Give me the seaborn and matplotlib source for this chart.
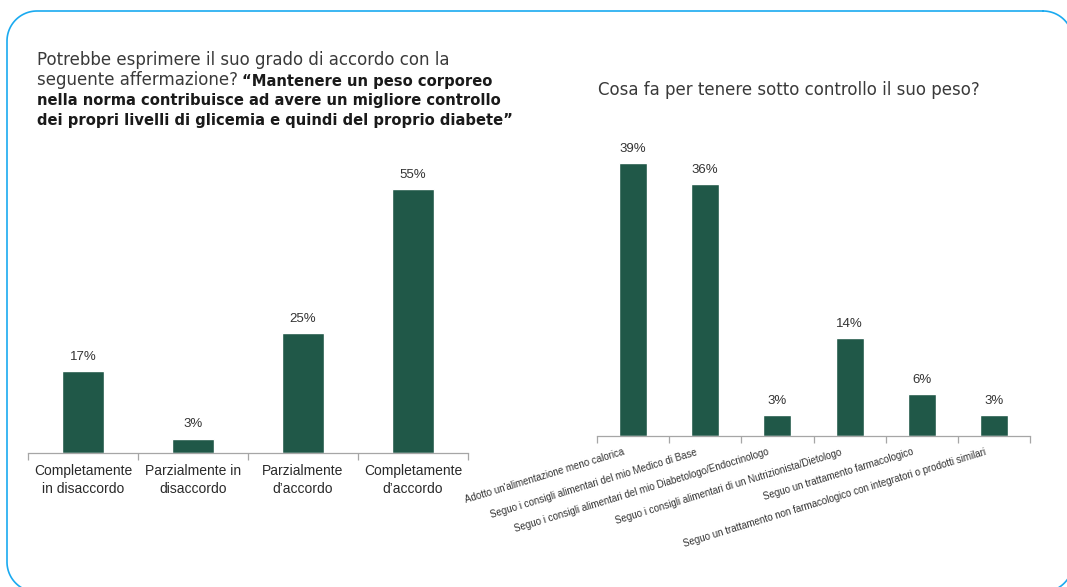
import matplotlib
matplotlib.use("Agg")
import matplotlib.pyplot as plt
from matplotlib.transforms import ScaledTranslation
import numpy as np
import seaborn as sns

left_categories = ["Completamente\nin disaccordo", "Parzialmente in\ndisaccordo",
                   "Parzialmente\nd’accordo", "Completamente\nd’accordo"]
left_values = [17, 3, 25, 55]

right_categories = ["Adotto un'alimentazione meno calorica",
                    "Seguo i consigli alimentari del mio Medico di Base",
                    "Seguo i consigli alimentari del mio Diabetologo/Endocrinologo",
                    "Seguo i consigli alimentari di un Nutrizionista/Dietologo",
                    "Seguo un trattamento farmacologico",
                    "Seguo un trattamento non farmacologico con integratori o prodotti similari"]
right_values = [39, 36, 3, 14, 6, 3]

left_title = ["Potrebbe esprimere il suo grado di accordo con la",
              "seguente affermazione?"]
left_title_bold = ["“Mantenere un peso corporeo",
                   "nella norma contribuisce ad avere un migliore controllo",
                   "dei propri livelli di glicemia e quindi del proprio diabete”"]
right_title = "Cosa fa per tenere sotto controllo il suo peso?"

bar_color = "#205848"
axis_gray = "#a6a6a6"

sns.set_theme(style="white")
plt.rcParams["font.family"] = ["Liberation Sans", "DejaVu Sans"]

W, H = 1067, 587
fig = plt.figure(figsize=(W / 100, H / 100), dpi=100)

# background axes in pixel units, y measured from the top
bg = fig.add_axes([0, 0, 1, 1])
bg.set_xlim(0, W)
bg.set_ylim(H, 0)
bg.axis("off")

# rounded frame around the slide
x0, x1, y0, y1, r = 7, 1073, 11, 592, 30
corners = [(x1 - r, y0 + r, -90, 0), (x1 - r, y1 - r, 0, 90),
           (x0 + r, y1 - r, 90, 180), (x0 + r, y0 + r, 180, 270)]
fx, fy = [], []
for cx, cy, a0, a1 in corners:
    t = np.radians(np.linspace(a0, a1, 30))
    fx.extend(cx + r * np.cos(t))
    fy.extend(cy + r * np.sin(t))
fx.append(fx[0])
fy.append(fy[0])
bg.plot(fx, fy, color="#1aaaf0", linewidth=1.2, clip_on=False)

title_font = ["DejaVu Sans"]
normal_size = 12
bold_size = 10.6
bg.text(37, 60, left_title[0], fontsize=normal_size, color="#3a3a3a", va="center",
        family=title_font)
t2 = bg.text(37, 80, left_title[1], fontsize=normal_size, color="#3a3a3a", va="center",
             family=title_font)
bg.annotate(left_title_bold[0], xy=(1, 0), xycoords=t2, xytext=(3, 0), textcoords="offset points",
            fontsize=bold_size, fontweight="bold", color="#1a1a1a", va="bottom", family=title_font)
bg.text(37, 101, left_title_bold[1], fontsize=bold_size, fontweight="bold", color="#1a1a1a",
        va="center", family=title_font)
bg.text(37, 121, left_title_bold[2], fontsize=bold_size, fontweight="bold", color="#1a1a1a",
        va="center", family=title_font)
bg.text(598, 90, right_title, fontsize=normal_size, color="#3a3a3a", va="center",
        family=title_font)


def style_axis(ax, n, ymax):
    ax.set_facecolor("none")
    ax.set_ylim(0, ymax)
    ax.set_xlim(-0.5, n - 0.5)
    ax.set_yticks([])
    ax.set_ylabel("")
    ax.set_xlabel("")
    for s in ["top", "right", "left"]:
        ax.spines[s].set_visible(False)
    ax.spines["bottom"].set_color(axis_gray)
    ax.spines["bottom"].set_linewidth(0.9)
    ax.set_xticks([i - 0.5 for i in range(n + 1)], minor=True)
    ax.tick_params(axis="x", which="minor", length=5, width=0.9, color=axis_gray,
                   direction="out", bottom=True)
    ax.tick_params(axis="x", which="major", length=0)
    ax.bar_label(ax.containers[0], fmt="{:.0f}%", padding=6, fontsize=9.5, color="#333333")


# left chart
ax1 = fig.add_axes([28 / W, (H - 453) / H, 440 / W, 288 / H])
sns.barplot(x=left_categories, y=left_values, color=bar_color, saturation=1, width=0.39, ax=ax1)
style_axis(ax1, len(left_values), 60)
ax1.tick_params(axis="x", which="major", pad=8, labelsize=10, labelcolor="#2a2a2a")
for lab in ax1.get_xticklabels():
    lab.set_linespacing(1.35)

# right chart
ax2 = fig.add_axes([597 / W, (H - 436) / H, 433 / W, 294 / H])
sns.barplot(x=right_categories, y=right_values, color=bar_color, saturation=1, width=0.39, ax=ax2)
style_axis(ax2, len(right_values), 42)
ax2.tick_params(axis="x", which="major", pad=8, labelsize=7, labelcolor="#333333")
shift = ScaledTranslation(-10 / 100, 0, fig.dpi_scale_trans)
for lab in ax2.get_xticklabels():
    lab.set_rotation(17)
    lab.set_ha("right")
    lab.set_rotation_mode("anchor")
    lab.set_transform(lab.get_transform() + shift)

fig.savefig("out.png", dpi=100)
